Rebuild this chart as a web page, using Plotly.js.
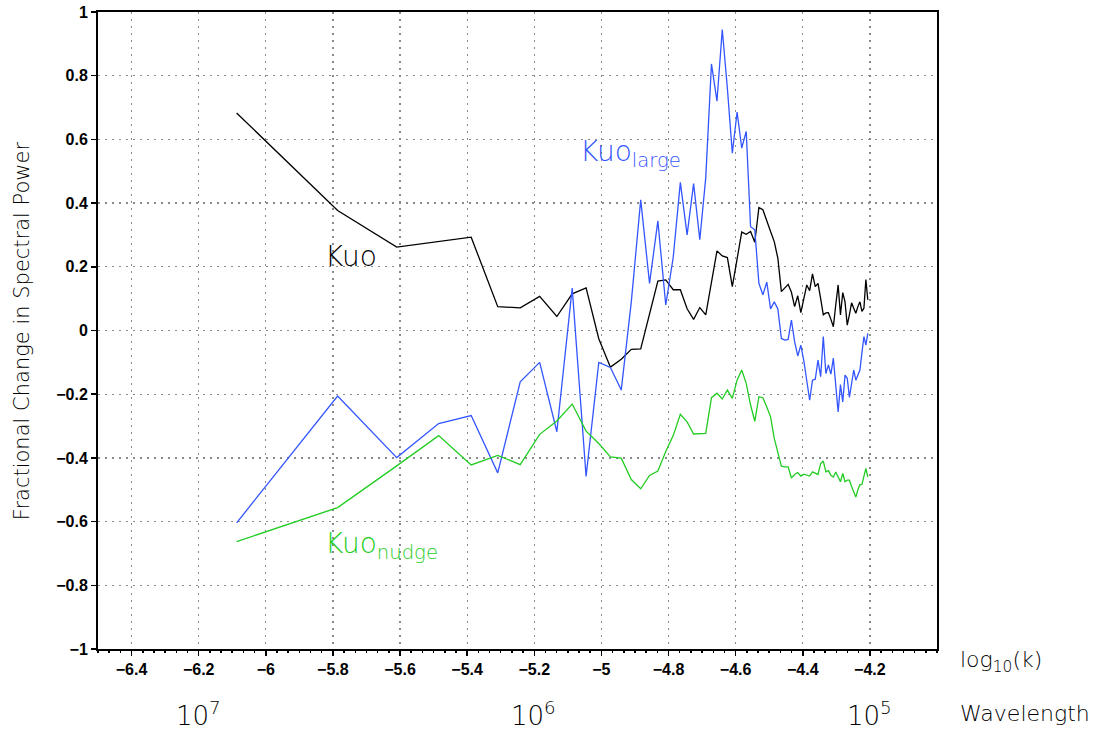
<!DOCTYPE html>
<html>
<head>
<meta charset="utf-8">
<script src="https://cdn.plot.ly/plotly-3.0.1.min.js"></script>
<style>
  html, body { margin: 0; padding: 0; background: #fff; }
  #chart { width: 1113px; height: 730px; }
</style>
</head>
<body>
<div id="chart"></div>
<script>
// ---- data ----
const LOG10_K1 = -6.087; // log10 of the first (lowest) wavenumber
const wavenumber = [1,2,3,4,5,6,7,8,9,10,11,12,13,14,15,16,17,18,19,20,
  21,22,23,24,25,26,27,28,29,30,31,32,33,34,35,36,37,38,39,40,
  41,42,43,44,45,46,47,48,49,50,51,52,53,54,55,56,57,58,59,60,
  61,62,63,64,65,66,67,68,69,70,71,72,73,74,75,76];

const kuo = [0.683,0.377,0.262,0.28,0.293,0.075,0.071,0.107,0.044,0.115,
  0.134,-0.026,-0.115,-0.09,-0.059,-0.058,0.05,0.155,0.159,0.128,
  0.128,0.068,0.035,0.072,0.049,0.15,0.25,0.234,0.229,0.138,
  0.229,0.309,0.302,0.311,0.277,0.386,0.379,0.342,0.311,0.279,
  0.227,0.122,0.133,0.145,0.12,0.075,0.109,0.056,0.10,0.143,
  0.125,0.178,0.138,0.148,0.10,0.049,0.055,0.056,0.035,0.012,
  0.08,0.143,0.049,0.119,0.09,0.017,0.05,0.087,0.07,0.054,
  0.075,0.09,0.06,0.07,0.16,0.096];

const kuoLarge = [-0.604,-0.206,-0.399,-0.292,-0.267,-0.447,-0.161,-0.1,-0.318,0.133,
  -0.458,-0.1,-0.116,-0.187,0.09,0.41,0.148,0.344,0.08,0.23,
  0.465,0.3,0.461,0.285,0.48,0.837,0.72,0.945,0.76,0.557,
  0.686,0.573,0.625,0.326,0.316,0.148,0.112,0.152,0.068,0.09,
  0.068,-0.025,-0.03,-0.028,0.033,-0.035,-0.08,-0.046,-0.095,-0.156,
  -0.219,-0.156,-0.153,-0.093,-0.145,-0.019,-0.135,-0.108,-0.137,-0.087,
  -0.17,-0.256,-0.17,-0.224,-0.14,-0.15,-0.21,-0.16,-0.124,-0.156,
  -0.14,-0.124,-0.07,-0.019,-0.046,-0.009];

const kuoNudge = [-0.663,-0.556,-0.425,-0.33,-0.422,-0.392,-0.421,-0.326,-0.284,-0.231,
  -0.316,-0.355,-0.397,-0.401,-0.468,-0.497,-0.455,-0.441,-0.38,-0.33,
  -0.263,-0.287,-0.325,-0.325,-0.323,-0.211,-0.197,-0.215,-0.187,-0.213,
  -0.156,-0.124,-0.166,-0.234,-0.285,-0.208,-0.211,-0.24,-0.271,-0.339,
  -0.386,-0.426,-0.428,-0.428,-0.463,-0.452,-0.446,-0.457,-0.451,-0.455,
  -0.457,-0.444,-0.448,-0.452,-0.418,-0.41,-0.444,-0.44,-0.455,-0.46,
  -0.444,-0.46,-0.475,-0.449,-0.475,-0.47,-0.47,-0.49,-0.51,-0.523,
  -0.5,-0.484,-0.483,-0.46,-0.433,-0.46];

const xTickVals = [-6.4,-6.2,-6,-5.8,-5.6,-5.4,-5.2,-5,-4.8,-4.6,-4.4,-4.2];
const yTickVals = [-1,-0.8,-0.6,-0.4,-0.2,0,0.2,0.4,0.6,0.8,1];
const wavelengths = [1e7, 1e6, 1e5];
const wavelengthLabels = ['10<sup>7</sup>','10<sup>6</sup>','10<sup>5</sup>'];

// ---- build ----
const logk = wavenumber.map(n => LOG10_K1 + Math.log10(n));
const fmt = v => (v < 0 ? '\u2212' : '') + String(Math.abs(v));

const lineFont = 'DejaVu Sans, Liberation Sans, sans-serif';
const tickFamily = 'Liberation Sans, Arial, sans-serif';

const traces = [
  {x: logk, y: kuo, mode: 'lines', line: {color: '#000000', width: 1.3}, name: 'Kuo'},
  {x: logk, y: kuoLarge, mode: 'lines', line: {color: '#3355ff', width: 1.3}, name: 'Kuo large'},
  {x: logk, y: kuoNudge, mode: 'lines', line: {color: '#22cc22', width: 1.3}, name: 'Kuo nudge'}
];

const annotations = [
  {xref: 'x', yref: 'y', x: -5.83, y: 0.232, xanchor: 'left', yanchor: 'middle', showarrow: false,
   text: 'Kuo', font: {family: lineFont, size: 28, color: '#000', weight: 200}},
  {xref: 'x', yref: 'y', x: -5.07, y: 0.555, xanchor: 'left', yanchor: 'middle', showarrow: false,
   text: 'Kuo<sub>large</sub>', font: {family: lineFont, size: 28, color: '#3355ff', weight: 200}},
  {xref: 'x', yref: 'y', x: -5.83, y: -0.675, xanchor: 'left', yanchor: 'middle', showarrow: false,
   text: 'Kuo<sub>nudge</sub>', font: {family: lineFont, size: 28, color: '#22cc22', weight: 200}},
  {xref: 'paper', yref: 'paper', x: 1.025, y: -0.0204, xanchor: 'left', yanchor: 'middle', showarrow: false,
   text: 'log<sub>10</sub>(k)', font: {family: lineFont, size: 22, color: '#000', weight: 200}},
  {xref: 'paper', yref: 'paper', x: 1.025, y: -0.102, xanchor: 'left', yanchor: 'middle', showarrow: false,
   text: 'Wavelength', font: {family: lineFont, size: 22, color: '#000', weight: 200}},
  {xref: 'paper', yref: 'paper', x: -0.091, y: 0.5, xanchor: 'center', yanchor: 'middle', showarrow: false,
   textangle: -90, text: 'Fractional Change in Spectral Power', font: {family: lineFont, size: 21, color: '#000', weight: 300}}
];
wavelengths.forEach((w, i) => {
  annotations.push({xref: 'x', yref: 'paper', x: Math.log10(2 * Math.PI / w), y: -0.102,
    xanchor: 'center', yanchor: 'middle', showarrow: false, text: wavelengthLabels[i],
    font: {family: lineFont, size: 26, color: '#000', weight: 200}});
});

function axisStyle(range, vals) {
  return {
    range: range, tickmode: 'array', tickvals: vals, ticktext: vals.map(fmt),
    ticks: 'outside', ticklen: 5, tickwidth: 1.5, tickcolor: '#000',
    showline: true, linecolor: '#000', linewidth: 2, mirror: true, zeroline: false,
    showgrid: true, gridcolor: '#8a8a8a', gridwidth: 1.3, griddash: '2px,5px',
    tickfont: {family: tickFamily, size: 16, color: '#000', weight: 700}
  };
}

const xaxis = axisStyle([-6.5, -4.0], xTickVals);
xaxis.minor = {dtick: 0.2 / 6, tick0: -6.5, ticks: 'outside', ticklen: 2, tickcolor: '#000', showgrid: false};
const yaxis = axisStyle([-1, 1], yTickVals);

const layout = {
  width: 1113, height: 730,
  font: {family: tickFamily, size: 16, color: '#000'},
  margin: {l: 98, r: 176, t: 12, b: 81, pad: 0},
  paper_bgcolor: '#fff', plot_bgcolor: '#fff',
  showlegend: false,
  xaxis: xaxis,
  yaxis: yaxis,
  annotations: annotations
};

Plotly.newPlot('chart', traces, layout, {staticPlot: true, displayModeBar: false});
</script>
</body>
</html>
